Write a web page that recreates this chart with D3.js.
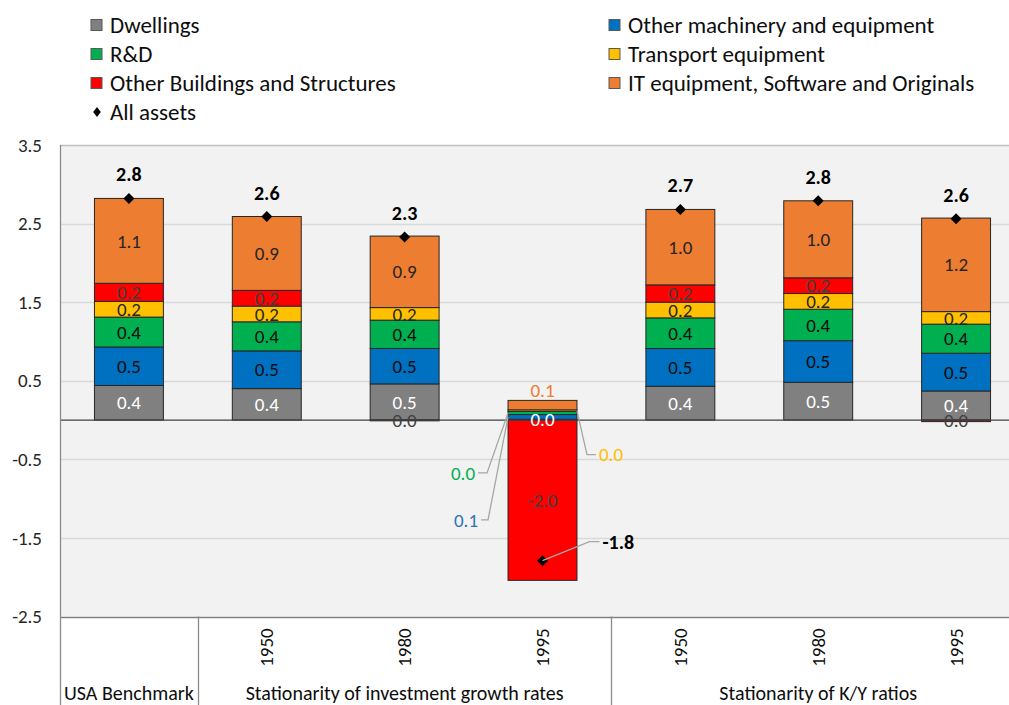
<!DOCTYPE html>
<html>
<head>
<meta charset="utf-8">
<script src="https://cdn.jsdelivr.net/npm/d3@7"></script>
<style>
  body { margin: 0; background: #fff; }
  svg { display: block; font-family: Carlito, Calibri, Lato, sans-serif; }
</style>
</head>
<body>
<script>
// categories (years repeat, so keep ids separate from the tick text)
var categories = ["usa", "inv1950", "inv1980", "inv1995", "ky1950", "ky1980", "ky1995"];
var yearLabels = ["", "1950", "1980", "1995", "1950", "1980", "1995"];
var groupNames = ["USA Benchmark", "Stationarity of investment growth rates", "Stationarity of K/Y ratios"];
var groupSizes = [1, 3, 3];

// series values, bottom to top of the stack
var dwellings      = [0.44, 0.40, 0.46, 0.01, 0.43, 0.48, 0.37];
var machinery      = [0.49, 0.48, 0.451, 0.06, 0.48, 0.53, 0.48];
var rnd            = [0.38, 0.37, 0.36, 0.04, 0.39, 0.40, 0.37];
var transport      = [0.20, 0.20, 0.16, 0.02, 0.20, 0.20, 0.16];
var otherBuildings = [0.23, 0.20, -0.01, -2.04, 0.22, 0.20, -0.02];
var itEquipment    = [1.08, 0.94, 0.91, 0.12, 0.96, 0.98, 1.19];
var allAssets      = [2.82, 2.59, 2.33, -1.79, 2.68, 2.79, 2.56];

var yTicks = [3.5, 2.5, 1.5, 0.5, -0.5, -1.5, -2.5];

var series = [
  { key: "dwellings", name: "Dwellings", values: dwellings, color: "#808080", text: "#ffffff" },
  { key: "machinery", name: "Other machinery and equipment", values: machinery, color: "#0070c0", text: "#0d0d0d" },
  { key: "rnd", name: "R&D", values: rnd, color: "#00b050", text: "#0d0d0d" },
  { key: "transport", name: "Transport equipment", values: transport, color: "#ffc000", text: "#262626" },
  { key: "other", name: "Other Buildings and Structures", values: otherBuildings, color: "#ff0000", text: "#404040" },
  { key: "it", name: "IT equipment, Software and Originals", values: itEquipment, color: "#ed7d31", text: "#262626" }
];

// labels of thin segments that are pulled out with leader lines
var callouts = [
  { cat: "inv1995", key: "rnd", side: "left", elbow: [-21, 60], stub: -30, color: "#00b050" },
  { cat: "inv1995", key: "machinery", side: "left", elbow: [-20, 103], stub: -27, color: "#2e75b6" },
  { cat: "inv1995", key: "transport", side: "right", elbow: [10, 44], stub: 19, color: "#ffc000" }
];
var aboveLabels = [{ cat: "inv1995", key: "it", color: "#ed7d31" }];
var totalCallouts = [{ cat: "inv1995", elbow: [47, -19], stub: 57 }];

var width = 1009, height = 705;
var plot = { left: 60, right: 1025, top: 145, bottom: 616.5 };
var fs = { tick: 19, label: 19, total: 20, legend: 23, year: 19, group: 20 };

var svg = d3.select("body").append("svg")
  .attr("width", width)
  .attr("height", height);

var x = d3.scaleBand()
  .domain(categories)
  .range([plot.left, plot.right])
  .paddingInner(0.5)
  .paddingOuter(0.25);

var y = d3.scaleLinear()
  .domain([-2.5, 3.5])
  .range([plot.bottom, plot.top]);

var fmt = function(v) { return Math.abs(v) < 0.05 ? "0.0" : v.toFixed(1); };

var table = categories.map(function(c, i) {
  var row = { cat: c, idx: i };
  series.forEach(function(s) { row[s.key] = s.values[i]; });
  return row;
});

var stacked = d3.stack()
  .keys(series.map(function(s) { return s.key; }))
  .offset(d3.stackOffsetDiverging)(table);

// plot area
svg.append("rect")
  .attr("x", plot.left).attr("y", plot.top)
  .attr("width", plot.right - plot.left).attr("height", plot.bottom - plot.top)
  .attr("fill", "#f2f2f2");

svg.append("g").selectAll("line")
  .data(yTicks)
  .enter().append("line")
  .attr("x1", plot.left).attr("x2", plot.right)
  .attr("y1", function(d) { return Math.round(y(d)) + 0.5; })
  .attr("y2", function(d) { return Math.round(y(d)) + 0.5; })
  .attr("stroke", function(d, i) { return i === 0 ? "#bfbfbf" : (d === -2.5 ? "#7f7f7f" : "#d9d9d9"); })
  .attr("stroke-width", 1.3);

// y axis
var yAxis = svg.append("g")
  .attr("transform", "translate(" + plot.left + ",0)")
  .call(d3.axisLeft(y).tickValues(yTicks).tickSize(0).tickPadding(18));
yAxis.select(".domain").remove();
yAxis.selectAll("text")
  .attr("font-size", fs.tick)
  .attr("fill", "#262626")
  .attr("font-family", "Carlito, Calibri, Lato, sans-serif")
  .text(function(d) { return d.toFixed(1); });

// stacked bars
var layer = svg.append("g").selectAll("g")
  .data(stacked)
  .enter().append("g")
  .attr("fill", function(d, i) { return series[i].color; });

layer.selectAll("rect")
  .data(function(d) { return d; })
  .enter().append("rect")
  .attr("x", function(d) { return x(d.data.cat); })
  .attr("y", function(d) { return y(Math.max(d[0], d[1])); })
  .attr("width", x.bandwidth())
  .attr("height", function(d) { return Math.abs(y(d[0]) - y(d[1])); })
  .attr("stroke", "#262626")
  .attr("stroke-width", 1);

// zero line
svg.append("line")
  .attr("x1", plot.left).attr("x2", plot.right)
  .attr("y1", y(0)).attr("y2", y(0))
  .attr("stroke", "#404040").attr("stroke-width", 1.3);

// left axis line, running down through the category area
svg.append("line")
  .attr("x1", plot.left + 0.5).attr("x2", plot.left + 0.5)
  .attr("y1", plot.top).attr("y2", height)
  .attr("stroke", "#8c8c8c").attr("stroke-width", 1.3);

function isCallout(cat, key) {
  return callouts.concat(aboveLabels).some(function(c) { return c.cat === cat && c.key === key; });
}

// segment labels (value read from the series, the stack only gives the place)
var labelG = svg.append("g").attr("font-size", fs.label).attr("text-anchor", "middle");
stacked.forEach(function(layerData, si) {
  layerData.forEach(function(d) {
    if (isCallout(d.data.cat, series[si].key)) return;
    labelG.append("text")
      .attr("x", x(d.data.cat) + x.bandwidth() / 2)
      .attr("y", y((d[0] + d[1]) / 2))
      .attr("dy", "0.35em")
      .attr("fill", series[si].text)
      .text(fmt(series[si].values[d.data.idx]));
  });
});

function segment(cat, key) {
  var si = series.findIndex(function(s) { return s.key === key; });
  return stacked[si][categories.indexOf(cat)];
}

// pulled-out labels with leader lines
callouts.forEach(function(c) {
  var seg = segment(c.cat, c.key);
  var ax = c.side === "left" ? x(c.cat) : x(c.cat) + x.bandwidth();
  var ay = y((seg[0] + seg[1]) / 2);
  var ex = ax + c.elbow[0], ey = ay + c.elbow[1];
  svg.append("polyline")
    .attr("points", [[ax, ay], [ex, ey], [ax + c.stub, ey]].join(" "))
    .attr("fill", "none").attr("stroke", "#a6a6a6").attr("stroke-width", 1.3);
  svg.append("text")
    .attr("x", c.side === "left" ? ax + c.stub - 3 : ax + c.stub + 3)
    .attr("y", ey)
    .attr("dy", "0.35em")
    .attr("font-size", fs.label)
    .attr("text-anchor", c.side === "left" ? "end" : "start")
    .attr("fill", c.color)
    .text(fmt(seg.data[c.key]));
});

aboveLabels.forEach(function(c) {
  var seg = segment(c.cat, c.key);
  svg.append("text")
    .attr("x", x(c.cat) + x.bandwidth() / 2)
    .attr("y", y(seg[1]) - 10)
    .attr("dy", "0.35em")
    .attr("font-size", fs.label)
    .attr("text-anchor", "middle")
    .attr("fill", c.color)
    .text(fmt(seg.data[c.key]));
});

// all assets markers
var diamond = "M0,-5.5L5.5,0L0,5.5L-5.5,0Z";
svg.append("g").selectAll("path")
  .data(allAssets)
  .enter().append("path")
  .attr("d", diamond)
  .attr("transform", function(d, i) {
    return "translate(" + (x(categories[i]) + x.bandwidth() / 2) + "," + y(d) + ")";
  })
  .attr("fill", "#000");

allAssets.forEach(function(v, i) {
  var cx = x(categories[i]) + x.bandwidth() / 2;
  var tc = totalCallouts.find(function(t) { return t.cat === categories[i]; });
  if (tc) {
    var ex = cx + tc.elbow[0], ey = y(v) + tc.elbow[1];
    svg.append("polyline")
      .attr("points", [[cx, y(v)], [ex, ey], [cx + tc.stub, ey]].join(" "))
      .attr("fill", "none").attr("stroke", "#a6a6a6").attr("stroke-width", 1.3);
    svg.append("text")
      .attr("x", cx + tc.stub + 3).attr("y", ey).attr("dy", "0.35em")
      .attr("font-size", fs.total).attr("font-weight", "bold").attr("fill", "#000")
      .text(fmt(v));
  } else {
    svg.append("text")
      .attr("x", cx).attr("y", y(v) - 24).attr("dy", "0.35em")
      .attr("font-size", fs.total).attr("font-weight", "bold").attr("text-anchor", "middle")
      .attr("fill", "#000")
      .text(fmt(v));
  }
});

// multi-level category axis
var catG = svg.append("g");
categories.forEach(function(c, i) {
  if (!yearLabels[i]) return;
  var cx = x(c) + x.bandwidth() / 2;
  catG.append("text")
    .attr("transform", "translate(" + cx + ",647.5) rotate(-90)")
    .attr("dy", "0.35em")
    .attr("font-size", fs.year)
    .attr("text-anchor", "middle")
    .attr("fill", "#0d0d0d")
    .text(yearLabels[i]);
});

var start = 0;
groupNames.forEach(function(g, gi) {
  var end = start + groupSizes[gi];
  var left = plot.left + start * x.step();
  var right = plot.left + end * x.step();
  catG.append("line")
    .attr("x1", Math.round(right) + 0.5).attr("x2", Math.round(right) + 0.5)
    .attr("y1", plot.bottom).attr("y2", height)
    .attr("stroke", "#8c8c8c").attr("stroke-width", 1.3);
  catG.append("text")
    .attr("x", (left + right) / 2)
    .attr("y", 700)
    .attr("font-size", fs.group)
    .attr("text-anchor", "middle")
    .attr("fill", "#0d0d0d")
    .text(g);
  start = end;
});

// legend: two columns, filled row by row
var legendItems = series.concat([{ key: "all", name: "All assets", diamond: true }]);
var legend = svg.append("g").attr("font-size", fs.legend).attr("fill", "#0d0d0d");
legendItems.forEach(function(s, i) {
  var col = s.diamond ? 0 : i % 2;
  var row = s.diamond ? 3 : Math.floor(i / 2);
  var lx = col === 0 ? 91 : 609;
  var ly = 25 + row * 29;
  if (s.diamond) {
    legend.append("path")
      .attr("d", "M0,-5L3.8,0L0,5L-3.8,0Z")
      .attr("transform", "translate(" + (lx + 6) + "," + ly + ")")
      .attr("fill", "#000");
  } else {
    legend.append("rect")
      .attr("x", lx).attr("y", ly - 5.5)
      .attr("width", 11).attr("height", 11)
      .attr("fill", s.color)
      .attr("stroke", "#595959").attr("stroke-width", 1);
  }
  legend.append("text")
    .attr("x", lx + 19)
    .attr("y", ly)
    .attr("dy", "0.35em")
    .text(s.name);
});
</script>
</body>
</html>
